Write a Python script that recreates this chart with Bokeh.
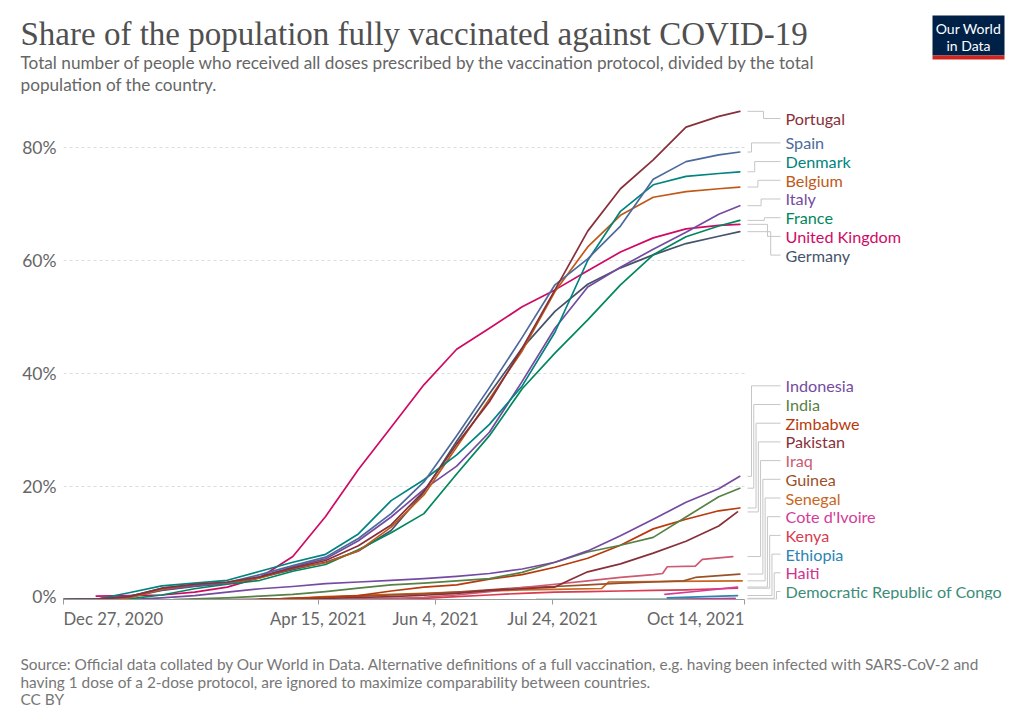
import datetime as dt
from bokeh.plotting import figure
from bokeh.layouts import column
from bokeh.models import Range1d, ColumnDataSource, FixedTicker
from bokeh.embed import file_html
from bokeh.resources import INLINE
from bokeh.core.properties import value

# ---------------- data (share of population fully vaccinated, %) ----------------
eu_dates = ["2020-12-27", "2021-01-10", "2021-01-24", "2021-02-07", "2021-02-21", "2021-03-07",
            "2021-03-21", "2021-04-04", "2021-04-18", "2021-05-02", "2021-05-16", "2021-05-30",
            "2021-06-13", "2021-06-27", "2021-07-11", "2021-07-25", "2021-08-08", "2021-08-22",
            "2021-09-05", "2021-09-19", "2021-10-03", "2021-10-12"]
portugal = [0, 0.05, 0.5, 2.0, 2.7, 3.1, 4.0, 5.6, 6.9, 9.5, 13.2, 19.2, 27.5, 35.0, 44.5, 54.8, 65.2, 72.7, 77.8, 83.6, 85.5, 86.4]
spain    = [0, 0.05, 0.5, 2.0, 2.6, 3.0, 4.4, 6.0, 7.5, 10.8, 15.2, 20.8, 29.0, 37.5, 46.4, 55.7, 60.3, 66.1, 74.4, 77.5, 78.7, 79.2]
denmark  = [0, 0.05, 1.2, 2.4, 2.9, 3.4, 5.0, 6.6, 8.0, 11.6, 17.5, 21.2, 25.6, 31.0, 37.8, 47.3, 60.0, 68.7, 73.4, 74.9, 75.4, 75.7]
belgium  = [0, 0.05, 0.3, 1.8, 2.6, 3.0, 3.8, 5.5, 6.5, 8.6, 12.8, 18.5, 27.0, 35.5, 44.0, 54.5, 62.4, 68.0, 71.2, 72.2, 72.7, 73.0]
italy    = [0, 0.05, 0.6, 1.7, 2.4, 2.9, 4.0, 5.8, 7.2, 10.4, 14.6, 19.5, 23.6, 29.6, 38.6, 48.0, 55.3, 58.8, 62.0, 65.0, 68.2, 69.7]
france   = [0, 0.0, 0.1, 0.8, 1.9, 2.7, 3.4, 5.0, 6.2, 8.8, 11.8, 15.2, 22.2, 29.0, 37.3, 43.6, 49.5, 55.7, 61.0, 64.2, 66.1, 67.1]
germany  = [0, 0.05, 0.4, 1.6, 2.3, 2.8, 3.9, 5.3, 6.6, 8.6, 12.2, 19.0, 28.0, 36.4, 44.5, 51.0, 55.8, 58.7, 61.0, 63.0, 64.3, 65.1]

uk_dates = eu_dates[1:]
uk = [0.6, 0.7, 0.8, 1.3, 2.2, 3.9, 7.6, 14.7, 23.0, 30.5, 38.0, 44.3, 48.0, 51.8, 54.8, 58.2, 61.5, 64.0, 65.6, 66.2, 66.4]

indonesia_dates = eu_dates[2:]
indonesia = [0.0, 0.3, 0.7, 1.3, 1.9, 2.3, 2.8, 3.1, 3.4, 3.7, 4.1, 4.6, 5.4, 6.6, 8.6, 11.3, 14.2, 17.2, 19.6, 21.8]

india_dates = ["2021-02-12", "2021-02-21", "2021-03-07", "2021-03-21", "2021-04-04", "2021-04-18",
               "2021-05-02", "2021-05-16", "2021-05-30", "2021-06-13", "2021-06-27", "2021-07-11",
               "2021-07-25", "2021-08-08", "2021-08-22", "2021-09-05", "2021-09-19", "2021-10-03", "2021-10-12"]
india = [0.0, 0.1, 0.3, 0.6, 0.9, 1.4, 2.0, 2.6, 2.9, 3.3, 3.7, 4.8, 6.6, 8.4, 9.6, 11.0, 14.6, 18.2, 19.7]

zimbabwe_dates = eu_dates[6:]
zimbabwe = [0.0, 0.2, 0.4, 0.7, 1.5, 2.2, 2.6, 3.6, 4.4, 5.7, 7.3, 9.6, 12.5, 14.2, 15.7, 16.2]

pakistan_dates = ["2021-03-07", "2021-03-21", "2021-04-04", "2021-04-18", "2021-05-02", "2021-05-16",
                  "2021-05-30", "2021-06-13", "2021-06-27", "2021-07-11", "2021-07-25", "2021-08-01",
                  "2021-08-08", "2021-08-22", "2021-09-05", "2021-09-19", "2021-10-03", "2021-10-11"]
pakistan = [0.0, 0.05, 0.1, 0.2, 0.35, 0.5, 0.75, 1.1, 1.6, 1.9, 2.2, 3.6, 4.9, 6.3, 8.2, 10.3, 13.0, 15.5]

iraq_dates = ["2021-04-18", "2021-05-02", "2021-05-16", "2021-05-30", "2021-06-13", "2021-06-27",
              "2021-07-11", "2021-07-25", "2021-08-08", "2021-08-22", "2021-09-05", "2021-09-09",
              "2021-09-11", "2021-09-23", "2021-09-26", "2021-10-09"]
iraq = [0.0, 0.1, 0.2, 0.4, 0.8, 1.4, 2.1, 2.7, 3.3, 3.9, 4.4, 4.6, 5.8, 5.9, 7.1, 7.6]

guinea_dates = ["2021-03-21", "2021-04-04", "2021-04-18", "2021-05-02", "2021-05-16", "2021-05-30",
                "2021-06-13", "2021-06-27", "2021-07-11", "2021-07-25", "2021-08-08", "2021-08-22",
                "2021-09-05", "2021-09-18", "2021-09-23", "2021-10-12"]
guinea = [0.0, 0.2, 0.4, 0.6, 0.8, 1.0, 1.3, 1.7, 2.1, 2.3, 2.6, 2.9, 3.1, 3.3, 3.9, 4.5]

senegal_dates = ["2021-03-21", "2021-04-04", "2021-04-18", "2021-05-02", "2021-05-16", "2021-05-30",
                 "2021-06-13", "2021-06-27", "2021-07-11", "2021-07-25", "2021-08-14", "2021-08-17",
                 "2021-09-13", "2021-10-13"]
senegal = [0.0, 0.2, 0.5, 0.7, 0.9, 1.1, 1.3, 1.5, 1.7, 1.8, 1.95, 3.1, 3.2, 3.3]

cote_dates = ["2021-09-10", "2021-09-25", "2021-10-11"]
cote_divoire = [0.9, 1.5, 2.2]

kenya_dates = ["2021-05-16", "2021-05-30", "2021-06-13", "2021-06-27", "2021-07-11", "2021-07-25",
               "2021-08-08", "2021-08-22", "2021-09-05", "2021-09-19", "2021-10-03", "2021-10-11"]
kenya = [0.0, 0.2, 0.5, 0.8, 1.1, 1.3, 1.4, 1.5, 1.6, 1.7, 1.9, 2.0]

ethiopia_dates = ["2021-09-11", "2021-10-11"]
ethiopia = [0.3, 0.7]

haiti_dates = ["2021-09-11", "2021-10-10"]
haiti = [0.0, 0.2]

drc_dates = ["2021-07-17", "2021-10-09"]
drc = [0.0, 0.05]

x_tick_dates = ["2020-12-27", "2021-04-15", "2021-06-04", "2021-07-24", "2021-10-14"]
x_tick_labels = ["Dec 27, 2020", "Apr 15, 2021", "Jun 4, 2021", "Jul 24, 2021", "Oct 14, 2021"]
y_ticks = [0, 20, 40, 60, 80]
y_tick_labels = ["0%", "20%", "40%", "60%", "80%"]

title = "Share of the population fully vaccinated against COVID-19"
subtitle = ["Total number of people who received all doses prescribed by the vaccination protocol, divided by the total",
            "population of the country."]
footnote = ["Source: Official data collated by Our World in Data. Alternative definitions of a full vaccination, e.g. having been infected with SARS-CoV-2 and",
            "having 1 dose of a 2-dose protocol, are ignored to maximize comparability between countries.",
            "CC BY"]

# ---------------- styles ----------------
series = [
    ("Democratic Republic of Congo", drc_dates, drc, "#3C8C78"),
    ("Haiti", haiti_dates, haiti, "#D0338F"),
    ("Ethiopia", ethiopia_dates, ethiopia, "#2B84B4"),
    ("Kenya", kenya_dates, kenya, "#D73C50"),
    ("Cote d'Ivoire", cote_dates, cote_divoire, "#D43C98"),
    ("Senegal", senegal_dates, senegal, "#C8661E"),
    ("Guinea", guinea_dates, guinea, "#9A5129"),
    ("Iraq", iraq_dates, iraq, "#CC5A72"),
    ("Pakistan", pakistan_dates, pakistan, "#883039"),
    ("Zimbabwe", zimbabwe_dates, zimbabwe, "#B83A0C"),
    ("India", india_dates, india, "#578145"),
    ("Indonesia", indonesia_dates, indonesia, "#744BA0"),
    ("United Kingdom", uk_dates, uk, "#CF0A66"),
    ("Germany", eu_dates, germany, "#45536B"),
    ("France", eu_dates, france, "#00875E"),
    ("Italy", eu_dates, italy, "#744BA0"),
    ("Belgium", eu_dates, belgium, "#C05917"),
    ("Denmark", eu_dates, denmark, "#00847E"),
    ("Spain", eu_dates, spain, "#4C6A9C"),
    ("Portugal", eu_dates, portugal, "#883039"),
]


def ms(s):
    return dt.datetime.strptime(s, "%Y-%m-%d").replace(tzinfo=dt.timezone.utc).timestamp() * 1000.0


# layout (pixels)
W = 1024
HEAD_H = 100
FRAME_L = 63
PLOT_H = 499            # frame height of main chart
AX_H = 7                # x-axis panel (line + ticks)
FOOT_H = 723 - HEAD_H - PLOT_H - AX_H
X_END_PX = 744          # x pixel of the last date tick
PX_PER_PCT = 5.65

x0 = ms(x_tick_dates[0])
x_last = ms(x_tick_dates[-1])
px_per_ms = (X_END_PX - FRAME_L) / (x_last - x0)
x1 = x0 + (W - FRAME_L) / px_per_ms
y_top = PLOT_H / PX_PER_PCT

TEXT_GREY = "#666666"


def blank(fig):
    fig.outline_line_color = None
    fig.xgrid.visible = False
    fig.ygrid.visible = False
    fig.background_fill_color = "white"
    fig.border_fill_color = "white"


# ---------------- header ----------------
head = figure(width=W, height=HEAD_H, x_range=Range1d(0, W), y_range=Range1d(HEAD_H, 0),
              output_backend="svg", toolbar_location=None, min_border=0,
              x_axis_location=None, y_axis_location=None, frame_align=False)
blank(head)
head.text(x=[20], y=[33], text=[title], text_font=value("Liberation Serif"), text_font_size="33px",
          text_color="#505050", text_baseline="middle", text_align="left")
head.text(x=[20, 20], y=[62, 84], text=subtitle, text_font=value("Lato"), text_font_size="17.2px",
          text_color=TEXT_GREY, text_baseline="middle", text_align="left")
head.quad(left=[932], right=[1004], top=[15], bottom=[55], fill_color="#002147", line_color=None)
head.quad(left=[932], right=[1004], top=[55], bottom=[59], fill_color="#CE261E", line_color=None)
head.text(x=[968, 968], y=[28, 45], text=["Our World", "in Data"], text_font=value("Lato"),
          text_font_size="14px", text_color="white", text_baseline="middle", text_align="center")

# ---------------- main chart ----------------
p = figure(width=W, height=PLOT_H + AX_H, x_axis_type="datetime",
           x_range=Range1d(x0, x1), y_range=Range1d(0, y_top),
           output_backend="svg", toolbar_location=None, frame_align=False,
           min_border_left=FRAME_L, min_border_right=0, min_border_top=0, min_border_bottom=AX_H)
p.extra_x_ranges = {"px": Range1d(FRAME_L, W)}
blank(p)

xa = p.xaxis[0]
xa.ticker = FixedTicker(ticks=[ms(d) for d in x_tick_dates])
xa.axis_line_color = "#9a9a9a"
xa.major_tick_line_color = "#9a9a9a"
xa.major_tick_out = 5
xa.major_tick_in = 0
xa.minor_tick_line_color = None
xa.major_label_text_color = None
xa.major_label_text_font_size = "0px"
xa.major_label_standoff = 0
xa.bounds = (x0, x_last)

ya = p.yaxis[0]
ya.ticker = FixedTicker(ticks=y_ticks)
ya.major_label_overrides = {t: l for t, l in zip(y_ticks, y_tick_labels)}
ya.axis_line_color = None
ya.major_tick_line_color = None
ya.minor_tick_line_color = None
ya.major_tick_out = 0
ya.major_tick_in = 0
ya.minor_tick_out = 0
ya.major_label_standoff = 7
ya.major_label_text_font = "Lato"
ya.major_label_text_font_size = "17.5px"
ya.major_label_text_color = TEXT_GREY

grid_y = [t for t in y_ticks if t > 0]
p.segment(x0=[x0] * len(grid_y), x1=[x_last] * len(grid_y), y0=grid_y, y1=grid_y,
          line_color="#dcdcdc", line_width=1, line_dash="3 3")

for name, dates, vals, color in series:
    p.line([ms(d) for d in dates], vals, line_color=color, line_width=1.7,
           line_join="round", line_cap="round")

# end labels with connectors
GAP = 18.7 / PX_PER_PCT
LO = 8.0 / PX_PER_PCT
HI = y_top - 18.0 / PX_PER_PCT


def cluster_top(cl, vals):
    center = sum(vals[i] for i in cl) / len(cl)
    top = center + GAP * (len(cl) - 1) / 2.0
    top = min(top, HI)
    bottom = top - GAP * (len(cl) - 1)
    if bottom < LO:
        top += LO - bottom
    return top


ends = sorted([(s[0], s[2][-1], s[3]) for s in series], key=lambda t: -t[1])
end_vals = [e[1] for e in ends]
clusters = [[i] for i in range(len(ends))]
changed = True
while changed:
    changed = False
    tops = [cluster_top(c, end_vals) for c in clusters]
    for k in range(len(clusters) - 1):
        bot_k = tops[k] - GAP * (len(clusters[k]) - 1)
        if bot_k - tops[k + 1] < GAP - 1e-9:
            clusters[k] = clusters[k] + clusters[k + 1]
            del clusters[k + 1]
            changed = True
            break

lab_x, lab_y, lab_t, lab_c = [], [], [], []
con_xs, con_ys = [], []
START_PX, LABEL_PX = X_END_PX + 3, 785
for c in clusters:
    top = cluster_top(c, end_vals)
    n = len(c)
    step = min(3.2, 25.0 / (n - 1)) if n > 1 else 0
    for j, i in enumerate(c):
        name, v, color = ends[i]
        ly = top - GAP * j
        xv = 751 + step * j if n > 1 else 763
        con_xs.append([START_PX, xv, xv, LABEL_PX - 5])
        con_ys.append([v, v, ly, ly])
        lab_x.append(LABEL_PX)
        lab_y.append(ly)
        lab_t.append(name)
        lab_c.append(color)

p.multi_line(xs=con_xs, ys=con_ys, line_color="#c6c6c6", line_width=1, x_range_name="px")
lsrc = ColumnDataSource(dict(x=lab_x, y=lab_y, t=lab_t, c=lab_c))
p.text(x="x", y="y", text="t", text_color="c", source=lsrc, x_range_name="px",
       text_font=value("Lato"), text_font_size="16.2px", text_baseline="middle", text_align="left")

# ---------------- footer (x tick labels + source) ----------------
fx0 = x0 - FRAME_L / px_per_ms
fx1 = x0 + (W - FRAME_L) / px_per_ms
foot = figure(width=W, height=FOOT_H, x_axis_type="datetime", x_range=Range1d(fx0, fx1),
              y_range=Range1d(FOOT_H, 0), output_backend="svg", toolbar_location=None,
              min_border=0, x_axis_location=None, y_axis_location=None, frame_align=False)
foot.extra_x_ranges = {"px": Range1d(0, W)}
blank(foot)
top_abs = HEAD_H + PLOT_H + AX_H
aligns = ["left"] + ["center"] * (len(x_tick_dates) - 2) + ["right"]
tsrc = ColumnDataSource(dict(x=[ms(d) for d in x_tick_dates], y=[618 - top_abs] * len(x_tick_dates),
                             t=x_tick_labels, a=aligns))
foot.text(x="x", y="y", text="t", text_align="a", source=tsrc, text_font=value("Lato"),
          text_font_size="16.7px", text_color=TEXT_GREY, text_baseline="middle")
foot.text(x=[20, 20, 20], y=[663 - top_abs, 681 - top_abs, 698 - top_abs], text=footnote,
          x_range_name="px", text_font=value("Lato"), text_font_size="15.4px",
          text_color="#777777", text_baseline="middle", text_align="left")

layout = column(head, p, foot, spacing=0)
open("out.html", "w").write(file_html(layout, INLINE))
